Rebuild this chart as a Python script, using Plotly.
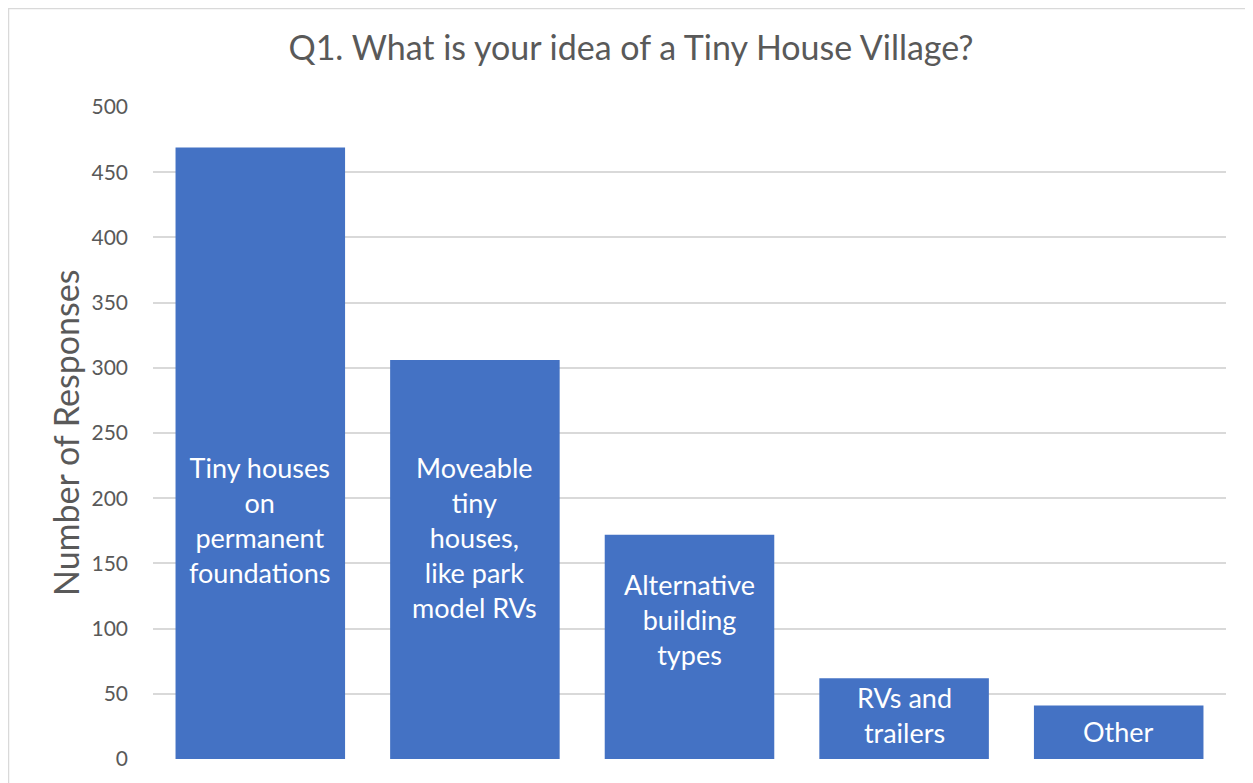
import plotly.graph_objects as go

# ---- data ----
categories = [
    "Tiny houses on permanent foundations",
    "Moveable tiny houses, like park model RVs",
    "Alternative building types",
    "RVs and trailers",
    "Other",
]
bar_labels = [
    "Tiny houses<br>on<br>permanent<br>foundations",
    "Moveable<br>tiny<br>houses,<br>like park<br>model RVs",
    "Alternative<br>building<br>types",
    "RVs and<br>trailers",
    "Other",
]
responses = [469, 306, 172, 62, 41]
y_ticks = [0, 50, 100, 150, 200, 250, 300, 350, 400, 450, 500]

# label anchor heights (data units) where the in-bar labels sit
label_anchor = [183, 170, 107, 34, 21]

FONT = "Lato"
GREY = "#595959"
BAR = "#4472C4"

W, H = 1245, 775
ML, MR, MT, MB = 145, 27, 99, 24
PW, PH = W - ML - MR, H - MT - MB

fig = go.Figure()
fig.add_trace(go.Bar(
    x=categories,
    y=responses,
    marker=dict(color=BAR, line=dict(width=0)),
    width=0.79,
    hoverinfo="x+y",
))

for cat, lab, ya in zip(categories, bar_labels, label_anchor):
    fig.add_annotation(
        x=cat, y=ya, xref="x", yref="y",
        text=lab, showarrow=False,
        font=dict(family=FONT, size=27, color="white"),
        align="center", yanchor="middle", xanchor="center",
    )

# y-axis title
fig.add_annotation(
    x=(65 - 8 - ML) / PW, y=0.5, xref="paper", yref="paper",
    text="Number of Responses", showarrow=False, textangle=-90,
    font=dict(family=FONT, size=34, color=GREY),
    xanchor="center", yanchor="middle",
)

# chart border (cropped on right and bottom)
fig.add_shape(type="rect", xref="paper", yref="paper",
              x0=-(ML - 0.5) / PW, x1=1.2, y0=-0.2, y1=1 + (MT - 0.5) / PH,
              line=dict(color="#d9d9d9", width=1.5), fillcolor="rgba(0,0,0,0)",
              layer="below")

fig.update_layout(
    width=W, height=H,
    margin=dict(l=ML, r=MR, t=MT, b=MB),
    paper_bgcolor="white", plot_bgcolor="white",
    showlegend=False,
    title=dict(
        text="Q1. What is your idea of a Tiny House Village?",
        font=dict(family=FONT, size=34, color=GREY),
        x=(631 - 8) / W, xref="container", xanchor="center",
        y=1 - 40 / H, yref="container", yanchor="middle",
    ),
    bargap=0.21,
    font=dict(family=FONT, color=GREY),
)
fig.update_xaxes(showticklabels=False, showgrid=False, zeroline=False,
                 showline=False, ticks="")
fig.update_yaxes(
    range=[0, 500], tickvals=y_ticks, ticktext=[str(v) for v in y_ticks],
    showgrid=True, gridcolor="#d9d9d9", gridwidth=1.5,
    zeroline=False, showline=False, ticks="",
    tickfont=dict(family=FONT, size=21, color=GREY),
    ticklabelstandoff=24,
)

fig.write_html("out.html")
